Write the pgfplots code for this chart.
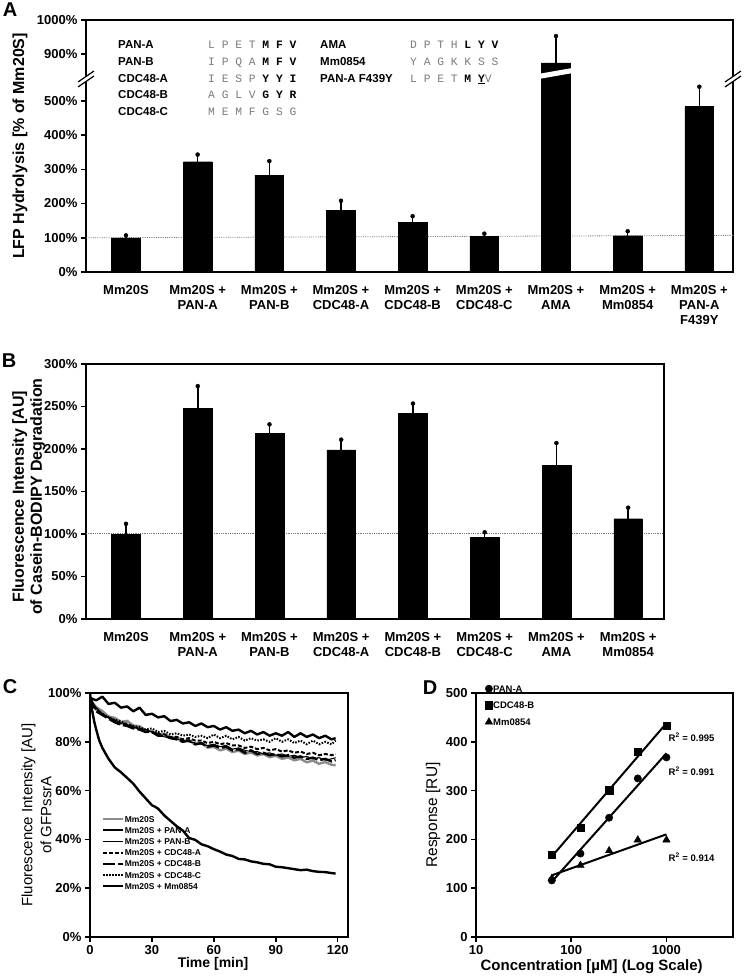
\documentclass[border=0pt]{standalone}
\usepackage{pgfplots}
\pgfplotsset{compat=1.18}
\usepackage{fontspec}
\setmainfont{Liberation Sans}
\newfontfamily\seqfont{Liberation Mono}
\definecolor{seqgray}{HTML}{7A7A7A}
\definecolor{curvegray}{HTML}{8C8C8C}
\definecolor{refgray}{HTML}{777777}
\newcommand\sg[1]{\textcolor{seqgray}{#1}}
\newcommand\nm[1]{{\bfseries\fontsize{11.5}{13}\selectfont #1}}
\newcommand\sq[1]{{\seqfont\fontsize{11.3}{13}\selectfont #1}}

\pgfplotsset{
  panel/.style={
    scale only axis, anchor=south west,
    axis line style={line width=2pt},
    tick style={black, line width=1.5pt},
    tick align=outside, major tick length=5pt,
    xtick pos=bottom, ytick pos=left,
    ticklabel style={font=\bfseries\fontsize{13}{15}\selectfont},
    /pgf/number format/assume math mode=true,
  },
  barpanel/.style={
    panel, major x tick style={draw=none},
    xticklabel style={align=center, yshift=-5pt},
    ylabel style={font=\bfseries\fontsize{16}{18}\selectfont, align=center},
  },
  bars/.style={ybar, fill=black, draw=black, bar width=0.4,
    error bars/.cd, y dir=plus, y explicit,
    error bar style={line width=1.6pt, black},
    error mark=*, error mark options={mark size=2pt, black, fill=black}},
}

\begin{document}
\begin{tikzpicture}
\useasboundingbox (0pt,0pt) rectangle (745pt,-976pt);

% ---------------- Panel A ----------------
\begin{axis}[barpanel, at={(86pt,-272pt)}, width=647pt, height=252pt,
  xmin=-0.558, xmax=8.47, ymin=0, ymax=736,
  xtick={0,...,8},
  xticklabels={{Mm20S},{Mm20S +\\PAN-A},{Mm20S +\\PAN-B},{Mm20S +\\CDC48-A},{Mm20S +\\CDC48-B},{Mm20S +\\CDC48-C},{Mm20S +\\AMA},{Mm20S +\\Mm0854},{Mm20S +\\PAN-A\\F439Y}},
  ytick={0,100,200,300,400,500,636,736},
  yticklabels={0\%,100\%,200\%,300\%,400\%,500\%,900\%,1000\%},
  ylabel={LFP Hydrolysis [\% of Mm20S]},
  ylabel style={at={(axis description cs:-0.102,0.5)}, anchor=center},
]
\addplot[densely dotted, refgray, line width=0.8pt] coordinates {(-0.558,100) (8.47,107)};
\addplot[bars] coordinates {
 (0,100) +- (0,7)
 (1,322) +- (0,21)
 (2,283) +- (0,41)
 (3,181) +- (0,27)
 (4,146) +- (0,17)
 (5,104) +- (0,8)
 (6,611) +- (0,78)
 (7,106) +- (0,13)
 (8,483) +- (0,58)
};
\fill[white] (axis cs:5.77,564) -- (axis cs:6.23,581) -- (axis cs:6.23,596) -- (axis cs:5.77,579) -- cycle;
\end{axis}
% axis breaks
\fill[white] (78pt,-82pt) -- (94pt,-71pt) -- (94pt,-76pt) -- (78pt,-87pt) -- cycle;
\draw[line width=1.2pt] (78pt,-82pt) -- (94pt,-71pt) (78pt,-87pt) -- (94pt,-76pt);
\fill[white] (725pt,-82pt) -- (741pt,-71pt) -- (741pt,-76pt) -- (725pt,-87pt) -- cycle;
\draw[line width=1.2pt] (725pt,-82pt) -- (741pt,-71pt) (725pt,-87pt) -- (741pt,-76pt);

% sequences
\node[anchor=base west, inner sep=0pt] at (118pt,-49pt) {\nm{PAN-A}};
\node[anchor=base west, inner sep=0pt] at (118pt,-65.7pt) {\nm{PAN-B}};
\node[anchor=base west, inner sep=0pt] at (118pt,-82.3pt) {\nm{CDC48-A}};
\node[anchor=base west, inner sep=0pt] at (118pt,-99pt) {\nm{CDC48-B}};
\node[anchor=base west, inner sep=0pt] at (118pt,-115.7pt) {\nm{CDC48-C}};
\node[anchor=base west, inner sep=0pt] at (208pt,-49pt) {\sq{\sg{L P E T }\textbf{M F V}}};
\node[anchor=base west, inner sep=0pt] at (208pt,-65.7pt) {\sq{\sg{I P Q A }\textbf{M F V}}};
\node[anchor=base west, inner sep=0pt] at (208pt,-82.3pt) {\sq{\sg{I E S P }\textbf{Y Y I}}};
\node[anchor=base west, inner sep=0pt] at (208pt,-99pt) {\sq{\sg{A G L V }\textbf{G Y R}}};
\node[anchor=base west, inner sep=0pt] at (208pt,-115.7pt) {\sq{\sg{M E M F G S G}}};
\node[anchor=base west, inner sep=0pt] at (320pt,-49pt) {\nm{AMA}};
\node[anchor=base west, inner sep=0pt] at (320pt,-65.7pt) {\nm{Mm0854}};
\node[anchor=base west, inner sep=0pt] at (320pt,-82.3pt) {\nm{PAN-A F439Y}};
\node[anchor=base west, inner sep=0pt] at (410pt,-49pt) {\sq{\sg{D P T H }\textbf{L Y V}}};
\node[anchor=base west, inner sep=0pt] at (410pt,-65.7pt) {\sq{\sg{Y A G K K S S}}};
\node[anchor=base west, inner sep=0pt] at (410pt,-82.3pt) {\sq{\sg{L P E T }\textbf{M \underline{Y}}\sg{ V}}};

% ---------------- Panel B ----------------
\begin{axis}[barpanel, at={(86pt,-619pt)}, width=578pt, height=255pt,
  xmin=-0.558, xmax=7.5, ymin=0, ymax=300,
  xtick={0,...,7},
  xticklabels={{Mm20S},{Mm20S +\\PAN-A},{Mm20S +\\PAN-B},{Mm20S +\\CDC48-A},{Mm20S +\\CDC48-B},{Mm20S +\\CDC48-C},{Mm20S +\\AMA},{Mm20S +\\Mm0854}},
  ytick={0,50,100,150,200,250,300},
  yticklabel={\pgfmathprintnumber{\tick}\%},
  ylabel={Fluorescence Intensity [AU]\\of Casein-BODIPY Degradation},
  ylabel style={at={(axis description cs:-0.099,0.48)}, anchor=center},
]
\addplot[densely dotted, refgray, line width=0.8pt] coordinates {(-0.558,100.5) (7.5,100.5)};
\addplot[bars] coordinates {
 (0,100) +- (0,12)
 (1,248) +- (0,26)
 (2,218.5) +- (0,10.5)
 (3,199) +- (0,12)
 (4,242) +- (0,11.5)
 (5,96) +- (0,6)
 (6,181) +- (0,26)
 (7,118) +- (0,13)
};
\end{axis}

% ---------------- Panel C ----------------
\begin{axis}[panel, at={(90pt,-937pt)}, width=258pt, height=244pt,
  xmin=0, xmax=125, ymin=0, ymax=100,
  xtick={0,30,60,90,120}, ytick={0,20,40,60,80,100},
  yticklabel={\pgfmathprintnumber{\tick}\%},
  ylabel={Fluorescence Intensity [AU]\\of GFPssrA},
  ylabel style={font=\fontsize{15}{19}\selectfont, align=center, at={(axis description cs:-0.207,0.5)}, anchor=center},
  xlabel={Time [min]},
  xlabel style={font=\bfseries\fontsize{14}{16}\selectfont, at={(axis description cs:0.477,-0.11)}, anchor=center},
  legend cell align=left,
  legend style={draw=none, fill=none, at={(axis description cs:0.045,0.50)}, anchor=north west,
    font=\bfseries\fontsize{8.5}{10}\selectfont, row sep=3.8pt, inner sep=0pt,
    nodes={inner sep=0.6pt, text height=6.2pt, text depth=0pt}},
  legend image code/.code={\draw[#1] (0pt,0pt) -- (20pt,0pt);},
]
\addplot[curvegray, line width=2.4pt, line join=round] coordinates {
(0,97.5)(3,94.2)(6,92.6)(9,90.4)(12,89.8)(15,88.1)(18,88.6)(21,86.7)(24,86.4)(27,84.6)(30,84.3)(33,83.0)(36,83.4)(39,81.6)(42,81.9)(45,80.4)(48,80.6)(51,78.9)(54,79.5)(57,77.6)(60,77.9)(63,76.5)(66,77.2)(69,75.8)(72,76.4)(75,75.0)(78,75.6)(81,74.4)(84,75.0)(87,73.7)(90,74.3)(93,73.0)(96,73.6)(99,72.4)(102,73.0)(105,71.6)(108,72.3)(111,71.0)(114,71.7)(117,70.6)(119,70.4)};
\addlegendentry{Mm20S}
\addplot[black, line width=2.4pt, line join=round] coordinates {
(0,100)(1,93)(2,88.5)(3,85)(4.5,80.5)(6,77.5)(9,73)(12,69.5)(15,67.5)(18,65.2)(21,62.8)(24,59.6)(27,56.8)(30,54)(31.5,53.4)(33,52.6)(36,49.8)(39,47.6)(42,45.4)(45,43.6)(48,40.6)(51,39.8)(54,38)(57,37.2)(60,36)(63,35)(66,33.8)(69,33.2)(72,32)(75,31.8)(78,31)(81,30.6)(84,30)(87,29.8)(90,28.8)(93,28.6)(96,28.2)(99,27.8)(102,27.4)(105,27.6)(108,27)(111,26.7)(114,26.6)(117,26.2)(119,26)};
\addlegendentry{Mm20S + PAN-A}
\addplot[black, line width=1.1pt, line join=round] coordinates {
(0,97)(3,94)(6,91.5)(9,90)(12,89)(15,87.5)(18,87)(21,86)(24,85.5)(27,85)(30,84)(33,83.5)(36,82)(39,82)(42,81)(45,80.5)(48,80)(51,79.5)(54,79)(57,78.5)(60,79)(63,78)(66,78.5)(69,77)(72,77.5)(75,76.5)(78,76)(81,76)(84,75)(87,75.5)(90,74.5)(93,75)(96,74)(99,74.5)(102,73.5)(105,74)(108,73)(111,73.5)(114,72.5)(117,73)(119,73.5)};
\addlegendentry{Mm20S + PAN-B}
\addplot[black, line width=2pt, dash pattern=on 4pt off 2pt] coordinates {
(0,97)(3,93.5)(6,91)(9,90)(12,88.5)(15,87.5)(18,87.5)(21,86)(24,85.5)(27,84.5)(30,84)(33,83)(36,83)(39,82)(42,82)(45,81)(48,81.5)(51,80.5)(54,80.5)(57,79.5)(60,80)(63,79)(66,79.5)(69,78.5)(72,78.5)(75,77.5)(78,78)(81,77)(84,77.5)(87,76.5)(90,77)(93,76)(96,76.5)(99,75.5)(102,76)(105,75)(108,75.5)(111,74.5)(114,75)(117,74.5)(119,75)};
\addlegendentry{Mm20S + CDC48-A}
\addplot[black, line width=2.4pt, dash pattern=on 12pt off 3pt] coordinates {
(0,98)(3,92.5)(6,91)(9,89.5)(12,88)(15,87)(18,86.5)(21,85.5)(24,85)(27,84)(30,84)(33,82.5)(36,82.5)(39,81.5)(42,81)(45,80)(48,80.5)(51,79)(54,79.5)(57,78)(60,78.5)(63,77.5)(66,78)(69,76.5)(72,77)(75,75.5)(78,76.5)(81,75)(84,75.5)(87,74.5)(90,75)(93,74)(96,74.5)(99,73.5)(102,74)(105,73)(108,73.5)(111,72.5)(114,73)(117,72)(119,72.5)};
\addlegendentry{Mm20S + CDC48-B}
\addplot[black, line width=2pt, dash pattern=on 1.5pt off 1.5pt] coordinates {
(0,98)(3,93)(6,91.5)(9,90)(12,89)(15,88.5)(18,87)(21,86.5)(24,86)(27,85)(30,85.5)(33,84)(36,84.5)(39,83)(42,83.5)(45,82.5)(48,83)(51,82)(54,82.5)(57,81.5)(60,83)(63,81.5)(66,82.5)(69,81)(72,82)(75,80.5)(78,81.5)(81,80.5)(84,81)(87,80)(90,81.5)(93,80)(96,81)(99,79.5)(102,80.5)(105,79)(108,80.5)(111,79)(114,80)(117,79)(119,80.5)};
\addlegendentry{Mm20S + CDC48-C}
\addplot[black, line width=2.4pt, line join=round] coordinates {
(0,98)(3,97)(6,98.5)(9,95.5)(12,96)(15,94)(18,94.5)(21,92.5)(24,94)(27,91)(30,91.5)(33,90)(36,90.5)(39,88.5)(42,89)(45,87.5)(48,88)(51,86.5)(54,87.5)(57,86)(60,86.5)(63,85)(66,86)(69,84.5)(72,85)(75,83.5)(78,84.5)(81,83)(84,84)(87,82.5)(90,83.5)(93,82.5)(96,84)(99,82)(102,83.5)(105,82)(108,83)(111,81.5)(114,82.5)(117,81)(119,81.5)};
\addlegendentry{Mm20S + Mm0854}
\end{axis}

% ---------------- Panel D ----------------
\begin{axis}[panel, at={(476pt,-937pt)}, width=257pt, height=244pt,
  xmode=log, xmin=10, xmax=5000, ymin=0, ymax=500,
  xtick={10,100,1000}, xticklabels={10,100,1000}, xminorticks=false,
  ytick={0,100,200,300,400,500},
  ylabel={Response [RU]},
  ylabel style={font=\fontsize{15.5}{18}\selectfont, at={(axis description cs:-0.167,0.5)}, anchor=center},
  xlabel={Concentration [\textmu M] (Log Scale)},
  xlabel style={font=\bfseries\fontsize{15}{17}\selectfont, at={(axis description cs:0.45,-0.12)}, anchor=center},
  legend cell align=left,
  legend style={draw=none, fill=none, at={(axis description cs:0.035,1.035)}, anchor=north west,
    font=\bfseries\fontsize{9.5}{11}\selectfont, row sep=8.5pt, inner sep=0pt,
    nodes={inner sep=0.5pt, text height=7pt, text depth=0pt}},
  legend image code/.code={\draw[#1] plot coordinates {(4pt,0pt)};},
]
\addplot[only marks, mark=*, mark size=3.7pt, black] coordinates {(62.5,116)(125,171)(250,244.5)(500,325)(1000,368)};
\addlegendentry{PAN-A}
\addplot[only marks, mark=square*, mark size=3.6pt, black] coordinates {(62.5,169)(125,224.7)(250,301)(500,380)(1000,433)};
\addlegendentry{CDC48-B}
\addplot[only marks, mark=triangle*, mark size=4.3pt, black] coordinates {(62.5,120)(125,147)(250,177)(500,199)(1000,199)};
\addlegendentry{Mm0854}
\addplot[black, line width=2pt, forget plot] coordinates {(62.5,113.3)(1000,376.5)};
\addplot[black, line width=2pt, forget plot] coordinates {(62.5,164.9)(1000,438.1)};
\addplot[black, line width=2pt, forget plot] coordinates {(62.5,126.4)(1000,210.4)};
\node[anchor=west, font=\bfseries\fontsize{9.5}{11}\selectfont] at (axis cs:970,410) {R\textsuperscript{2} = 0.995};
\node[anchor=west, font=\bfseries\fontsize{9.5}{11}\selectfont] at (axis cs:970,340) {R\textsuperscript{2} = 0.991};
\node[anchor=west, font=\bfseries\fontsize{9.5}{11}\selectfont] at (axis cs:970,164) {R\textsuperscript{2} = 0.914};
\end{axis}

% panel letters
\node[font=\bfseries\fontsize{20}{22}\selectfont] at (10pt,-10pt) {A};
\node[font=\bfseries\fontsize{20}{22}\selectfont] at (9pt,-361pt) {B};
\node[font=\bfseries\fontsize{20}{22}\selectfont] at (10pt,-687pt) {C};
\node[font=\bfseries\fontsize{20}{22}\selectfont] at (430pt,-688pt) {D};
\end{tikzpicture}
\end{document}
